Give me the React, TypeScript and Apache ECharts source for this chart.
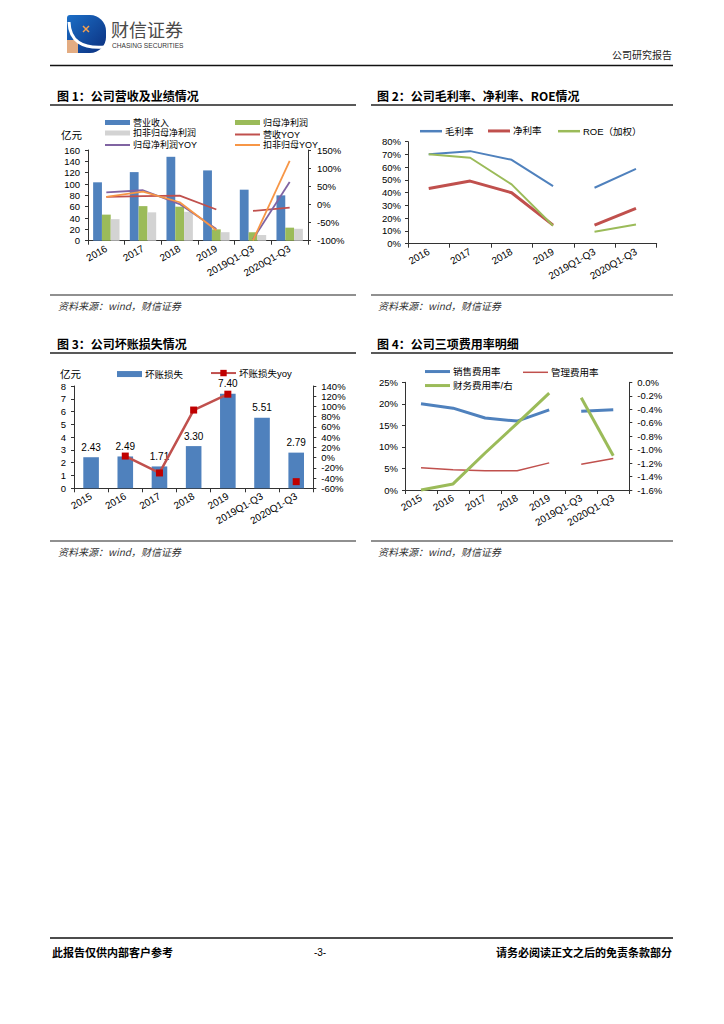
import React, { useEffect, useRef } from 'react';
import * as echarts from 'echarts';

// ---------- data ----------
const cats1 = ['2016', '2017', '2018', '2019', '2019Q1-Q3', '2020Q1-Q3'];
const revenue = [103, 121, 148, 124, 90, 80];
const netProfit = [46, 61, 60, 20, 15, 23];
const deductedProfit = [38, 50, 51, 15, 10, 21];
const revenueYoy = [21, 23, 24, -14, -18, -9];
const netProfitYoy = [33, 39, 1, -68, -96, 62];
const deductedYoy = [21, 35, 6, -71, -99, 120];

const grossMargin = [70.2, 72.6, 65.8, 45.2, 43.9, 58.7];
const netMargin = [43.3, 49.1, 40.0, 14.6, 14.6, 27.7];
const roe = [70.2, 67.4, 46.5, 14.1, 9.4, 15.1];

const cats3 = ['2015', '2016', '2017', '2018', '2019', '2019Q1-Q3', '2020Q1-Q3'];
const badDebt = [2.43, 2.49, 1.71, 3.3, 7.4, 5.51, 2.79];
const badDebtYoy = [null, 3, -30, 93, 124, null, -47];

const salesRate = [20.0, 19.0, 16.7, 16.0, 18.6, 18.3, 18.6];
const adminRate = [5.15, 4.7, 4.45, 4.45, 6.3, 6.0, 7.3];
const financeRate = [-1.6, -1.51, -1.05, -0.61, -0.16, -0.23, -1.09];

// ---------- styles ----------
const FONT = '"Liberation Sans", Arial, "Noto Sans CJK SC", sans-serif';
const CJK = '"Noto Sans CJK SC", "Liberation Sans", sans-serif';
const AX = '#333';
const BLUE = '#4F81BD';
const RED = '#C0504D';
const GREEN = '#9BBB59';
const GRAY = '#D3D3D3';
const PURPLE = '#8064A2';
const ORANGE = '#F79646';

function catAxis(gridIndex: number, data: string[]) {
  return {
    type: 'category',
    gridIndex,
    data,
    boundaryGap: true,
    axisLine: { lineStyle: { color: AX, width: 1 } },
    axisTick: { show: true, length: 4, lineStyle: { color: AX } },
    axisLabel: { interval: 0, rotate: 30, fontSize: 10, color: '#000', margin: 7, fontFamily: FONT },
  };
}

function valAxis(gridIndex: number, min: number, max: number, interval: number, position: string, fmt: (v: number) => string, margin: number) {
  return {
    type: 'value',
    gridIndex,
    min,
    max,
    interval,
    position,
    axisLine: { show: true, lineStyle: { color: AX, width: 1 } },
    axisTick: { show: true, length: 3, lineStyle: { color: AX } },
    splitLine: { show: false },
    axisLabel: { fontSize: 9.5, color: '#000', margin, formatter: fmt, fontFamily: FONT },
  };
}

function part(data: (number | null)[], from: number, to: number) {
  return data.map((v, i) => (i >= from && i < to ? v : null));
}

function lineSeries(name: string, data: (number | null)[], split: number, xAxisIndex: number, yAxisIndex: number, color: string, width: number) {
  const base = {
    type: 'line',
    name,
    xAxisIndex,
    yAxisIndex,
    symbol: 'none',
    clip: false,
    connectNulls: false,
    itemStyle: { color },
    lineStyle: { color, width },
    z: 5,
  };
  return [
    { ...base, data: part(data, 0, split) },
    { ...base, data: part(data, split, data.length) },
  ];
}

function leg(name: string, left: number, cy: number, w: number, h: number, icon?: string, fs = 9.5) {
  const o: any = {
    data: [name],
    left,
    top: cy - h / 2,
    padding: 0,
    itemWidth: w,
    itemHeight: h,
    selectedMode: false,
    textStyle: { fontSize: fs, color: '#000', fontFamily: FONT, padding: [0, 0, 0, -2] },
  };
  if (icon) o.icon = icon;
  return o;
}

function txt(text: string, x: number, y: number, size: number, opts: any = {}) {
  return {
    type: 'text',
    x,
    y,
    silent: true,
    style: {
      text,
      fill: opts.fill || '#000',
      fontSize: size,
      fontFamily: opts.family || CJK,
      fontWeight: opts.weight || 'normal',
      fontStyle: opts.style || 'normal',
      textAlign: opts.align || 'left',
      textVerticalAlign: 'middle',
      verticalAlign: 'middle',
    },
  };
}

function hline(x1: number, x2: number, y: number, w: number, color = '#222') {
  return { type: 'line', silent: true, shape: { x1, y1: y, x2, y2: y }, style: { stroke: color, lineWidth: w } };
}

const pct = (v: number) => `${v}%`;

function buildOption() {
  const series: any[] = [
    // chart 1
    { type: 'bar', name: '营业收入', data: revenue, xAxisIndex: 0, yAxisIndex: 0, barWidth: 8.8, barGap: '0%', itemStyle: { color: BLUE } },
    { type: 'bar', name: '归母净利润', data: netProfit, xAxisIndex: 0, yAxisIndex: 0, barWidth: 8.8, barGap: '0%', itemStyle: { color: GREEN } },
    { type: 'bar', name: '扣非归母净利润', data: deductedProfit, xAxisIndex: 0, yAxisIndex: 0, barWidth: 8.8, barGap: '0%', itemStyle: { color: GRAY } },
    ...lineSeries('营收YOY', revenueYoy, 4, 0, 1, RED, 1.8),
    ...lineSeries('归母净利润YOY', netProfitYoy, 4, 0, 1, PURPLE, 1.8),
    ...lineSeries('扣非归母YOY', deductedYoy, 4, 0, 1, ORANGE, 1.8),
    // chart 2
    ...lineSeries('毛利率', grossMargin, 4, 1, 2, BLUE, 2),
    ...lineSeries('净利率', netMargin, 4, 1, 2, RED, 3),
    ...lineSeries('ROE（加权）', roe, 4, 1, 2, GREEN, 2),
    // chart 3
    {
      type: 'bar', name: '坏账损失', data: badDebt, xAxisIndex: 2, yAxisIndex: 3, barWidth: 15.6,
      itemStyle: { color: BLUE },
      label: { show: true, position: 'top', distance: 5, fontSize: 10, color: '#000', fontFamily: FONT, formatter: (p: any) => Number(p.value).toFixed(2) },
    },
    {
      type: 'line', name: '坏账损失yoy', data: badDebtYoy, xAxisIndex: 2, yAxisIndex: 4,
      symbol: 'rect', symbolSize: 7, showSymbol: true, connectNulls: false, clip: false,
      itemStyle: { color: '#C00000' }, lineStyle: { color: RED, width: 2.5 }, z: 5,
    },
    // chart 4
    ...lineSeries('销售费用率', salesRate, 5, 3, 5, BLUE, 3),
    ...lineSeries('管理费用率', adminRate, 5, 3, 5, RED, 1.5),
    ...lineSeries('财务费用率/右', financeRate, 5, 3, 6, GREEN, 3),
  ];

  const graphic: any[] = [
    // logo
    {
      type: 'rect', silent: true, shape: { x: 67, y: 15, width: 39, height: 38, r: [3, 16, 16, 3] },
      style: { fill: new echarts.graphic.LinearGradient(0, 0, 1, 1, [{ offset: 0, color: '#1C6FC7' }, { offset: 1, color: '#0B2F7E' }]) },
    },
    { type: 'rect', silent: true, shape: { x: 67, y: 40, width: 11, height: 13 }, style: { fill: '#E3AC82' } },
    { type: 'bezierCurve', silent: true, shape: { x1: 69, y1: 22, cpx1: 70, cpy1: 50, x2: 105, y2: 47 }, style: { stroke: '#fff', lineWidth: 3, fill: 'none' } },
    { type: 'line', silent: true, shape: { x1: 83, y1: 26, x2: 89, y2: 32 }, style: { stroke: '#F5A050', lineWidth: 1.5 } },
    { type: 'line', silent: true, shape: { x1: 89, y1: 26, x2: 83, y2: 32 }, style: { stroke: '#F5A050', lineWidth: 1.5 } },
    txt('财信证券', 111, 28.5, 18, { fill: '#4a4a4a' }),
    txt('CHASING SECURITIES', 112, 45.5, 6.6, { fill: '#333', family: FONT }),
    txt('公司研究报告', 672, 54, 10, { align: 'right', fill: '#222' }),
    hline(50, 673, 65.5, 1.6, '#111'),

    // titles
    txt('图 1：公司营收及业绩情况', 57, 95, 12, { weight: 'bold' }),
    txt('图 2：公司毛利率、净利率、ROE情况', 377, 95, 12, { weight: 'bold' }),
    hline(50, 356, 105, 1.5),
    hline(371, 673, 105, 1.5),
    txt('亿元', 61, 134, 10.5),

    hline(50, 356, 295, 1.2),
    hline(371, 673, 295, 1.2),
    txt('资料来源：wind，财信证券', 58, 305, 10, { style: 'italic', fill: '#333' }),
    txt('资料来源：wind，财信证券', 378, 305, 10, { style: 'italic', fill: '#333' }),

    txt('图 3：公司坏账损失情况', 57, 343, 12, { weight: 'bold' }),
    txt('图 4：公司三项费用率明细', 377, 343, 12, { weight: 'bold' }),
    hline(50, 356, 353, 1.5),
    hline(371, 673, 353, 1.5),
    txt('亿元', 60, 373, 10.5),

    hline(50, 356, 541, 1.2),
    hline(371, 673, 541, 1.2),
    txt('资料来源：wind，财信证券', 58, 551, 10, { style: 'italic', fill: '#333' }),
    txt('资料来源：wind，财信证券', 378, 551, 10, { style: 'italic', fill: '#333' }),

    // footer
    hline(50, 673, 938, 1.5, '#111'),
    txt('此报告仅供内部客户参考', 52, 952, 11, { weight: 'bold' }),
    txt('-3-', 320, 952, 10, { align: 'center', family: FONT }),
    txt('请务必阅读正文之后的免责条款部分', 672, 952, 11, { weight: 'bold', align: 'right' }),
  ];

  return {
    animation: false,
    backgroundColor: '#fff',
    textStyle: { fontFamily: FONT },
    grid: [
      { left: 88, top: 150, width: 220, height: 90.7 },
      { left: 408, top: 141.7, width: 248.7, height: 102 },
      { left: 74, top: 386, width: 239.3, height: 102.3 },
      { left: 405, top: 382.3, width: 224.3, height: 107.7 },
    ],
    xAxis: [catAxis(0, cats1), catAxis(1, cats1), catAxis(2, cats3), catAxis(3, cats3)],
    yAxis: [
      valAxis(0, 0, 160, 20, 'left', (v) => `${v}`, 8),
      valAxis(0, -100, 150, 50, 'right', pct, 9),
      valAxis(1, 0, 80, 10, 'left', pct, 7),
      valAxis(2, 0, 8, 1, 'left', (v) => `${v}`, 8),
      valAxis(2, -60, 140, 20, 'right', pct, 8),
      valAxis(3, 0, 25, 5, 'left', pct, 7),
      valAxis(3, -1.6, 0, 0.2, 'right', (v) => `${Number(v).toFixed(1)}%`, 8),
    ],
    legend: [
      leg('营业收入', 105, 120.5, 25, 5, 'rect', 9),
      leg('归母净利润', 235, 120.5, 25, 5, 'rect', 9),
      leg('扣非归母净利润', 105, 131, 25, 5, 'rect', 9),
      leg('营收YOY', 235, 131, 25, 2, 'rect', 9),
      leg('归母净利润YOY', 105, 141.5, 25, 2, 'rect', 9),
      leg('扣非归母YOY', 235, 141.5, 25, 2, 'rect', 9),

      leg('毛利率', 420, 127.7, 22, 2.5, 'rect'),
      leg('净利率', 488, 127.7, 22, 3, 'rect'),
      leg('ROE（加权）', 558, 127.7, 22, 2.5, 'rect'),

      leg('坏账损失', 117, 372.3, 25, 6, 'rect'),
      leg('坏账损失yoy', 210, 372.3, 25, 8),

      leg('销售费用率', 425, 368.3, 25, 3, 'rect'),
      leg('管理费用率', 523, 368.3, 25, 1.5, 'rect'),
      leg('财务费用率/右', 425, 382.3, 25, 3, 'rect'),
    ],
    series,
    graphic,
  };
}

export default function App() {
  const ref = useRef<HTMLDivElement>(null);
  useEffect(() => {
    if (!ref.current) return;
    const chart = echarts.init(ref.current, null, { renderer: 'svg', width: 724, height: 1024 });
    chart.setOption(buildOption() as any);
    return () => chart.dispose();
  }, []);
  return (
    <div
      ref={ref}
      style={{ position: 'absolute', left: 0, top: 0, width: 724, height: 1024, background: '#fff' }}
    />
  );
}
